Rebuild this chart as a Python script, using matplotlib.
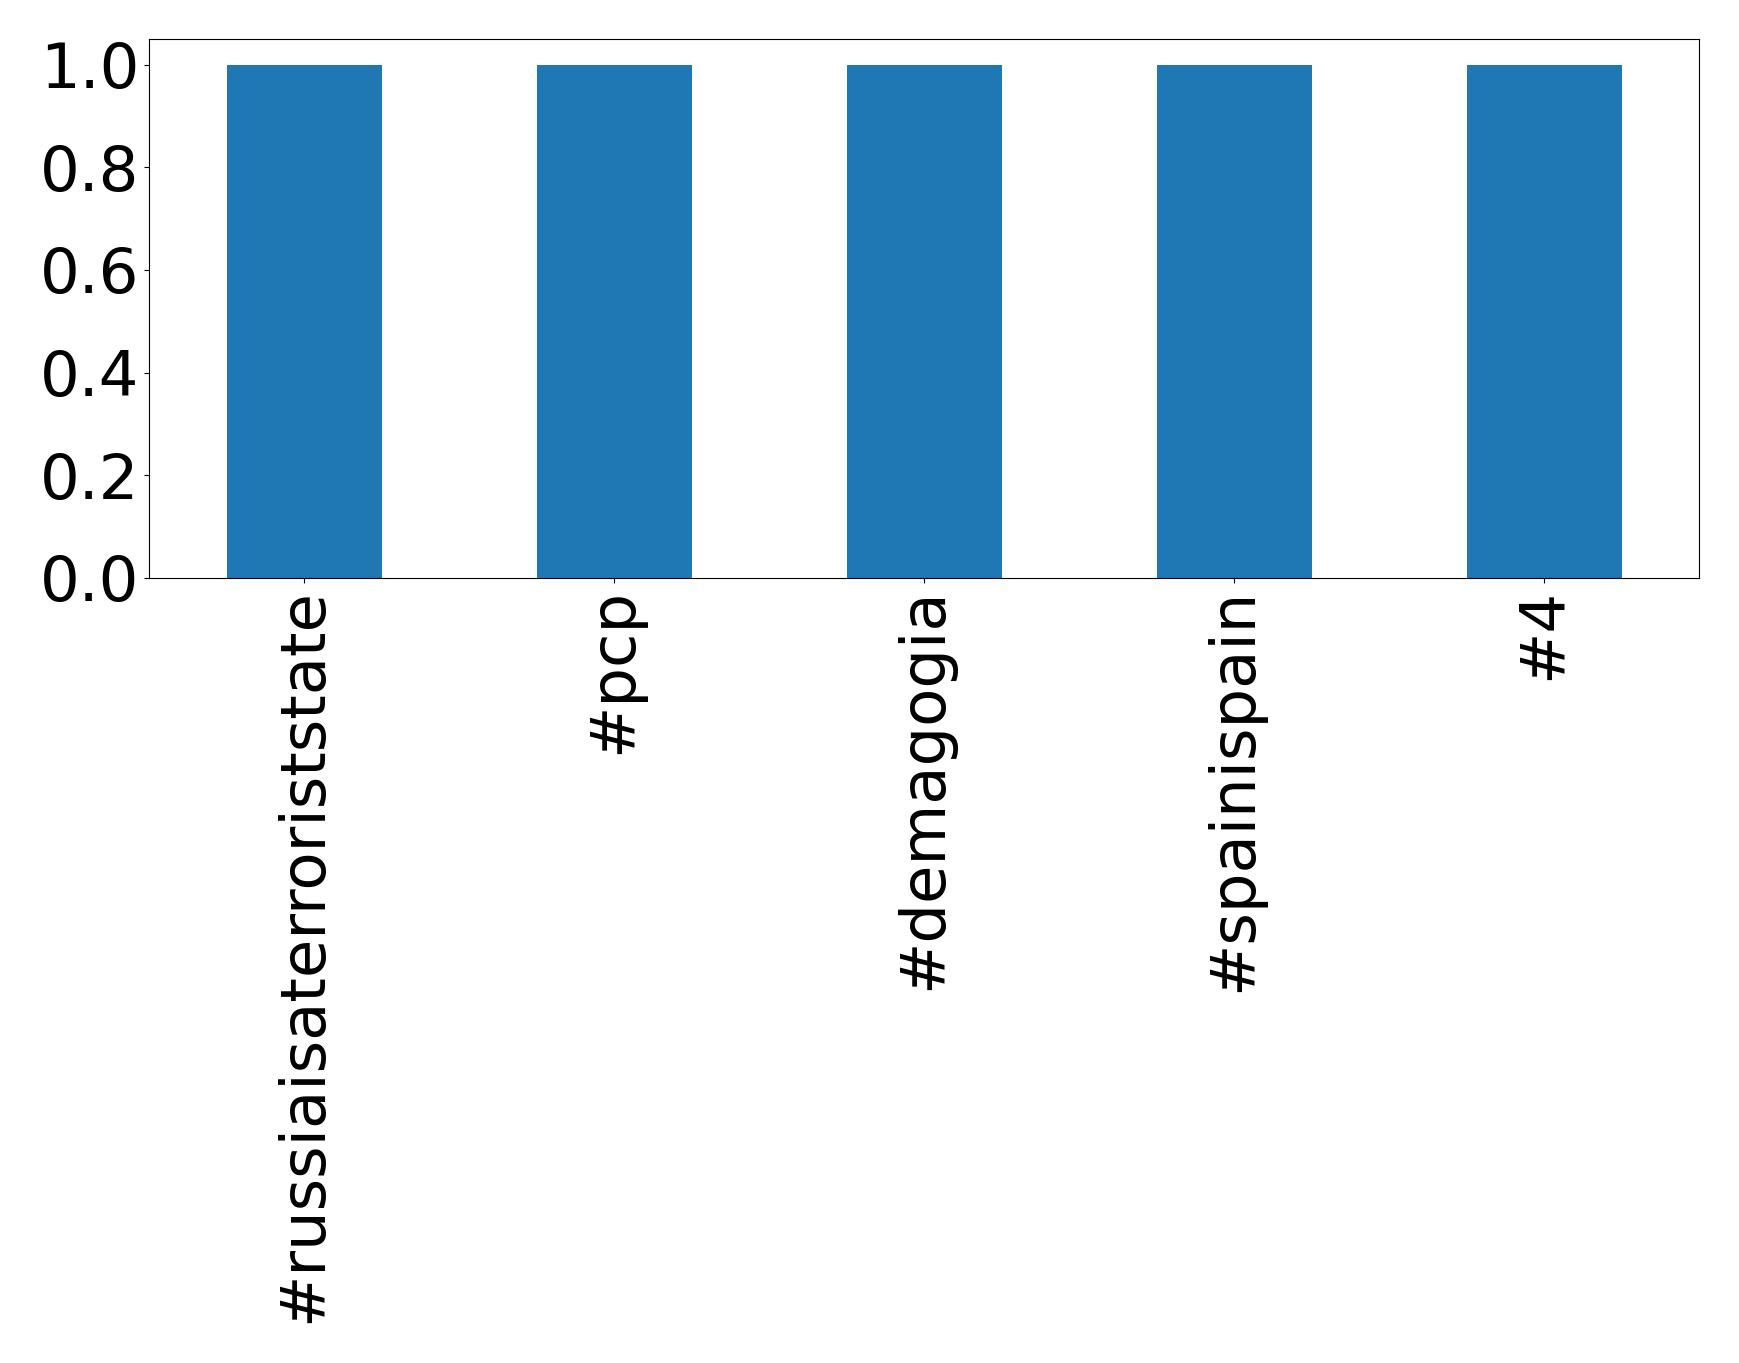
import matplotlib
matplotlib.use("Agg")
import matplotlib.pyplot as plt
import pandas as pd

# hashtag counts
hashtags = ["#russiaisaterroriststate", "#pcp", "#demagogia", "#spainispain", "#4"]
counts = [1, 1, 1, 1, 1]
yticks = [0.0, 0.2, 0.4, 0.6, 0.8, 1.0]

s = pd.Series(counts, index=hashtags)

fig = plt.figure(figsize=(17.39, 13.63), dpi=100)
ax = fig.add_axes([0.0857, 0.576, 0.8913, 0.3954])
s.plot(kind="bar", ax=ax, color="#1f77b4")
ax.set_yticks(yticks)
ax.tick_params(axis="both", labelsize=45)
ax.set_xlabel("")
fig.savefig("out.png", dpi=100)
